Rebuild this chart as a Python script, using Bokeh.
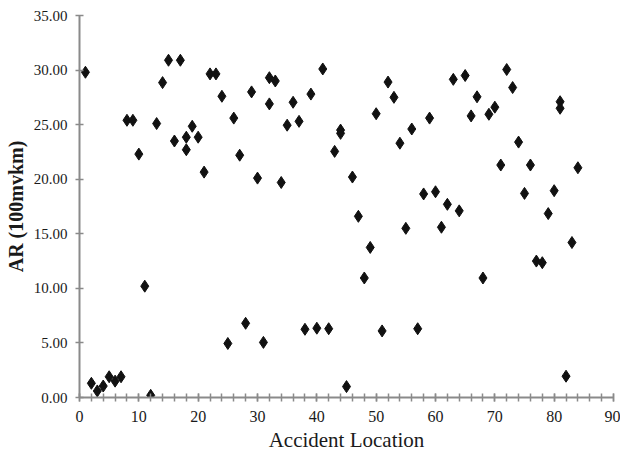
from bokeh.plotting import figure
from bokeh.models import FixedTicker, PrintfTickFormatter, Range1d, ColumnDataSource
from bokeh.embed import file_html
from bokeh.resources import INLINE

location = [1, 2, 3, 4, 5, 6, 7, 8, 9, 10, 11, 12, 13, 14, 15, 16, 17, 18, 18, 19,
            20, 21, 22, 23, 24, 25, 26, 27, 28, 29, 30, 31, 32, 32, 33, 34, 35, 36, 37, 38,
            39, 40, 41, 42, 43, 44, 44, 45, 46, 47, 48, 49, 50, 51, 52, 53, 54, 55, 56, 57,
            58, 59, 60, 61, 62, 63, 64, 65, 66, 67, 68, 69, 70, 71, 72, 73, 74, 75, 76, 77,
            78, 79, 80, 81, 81, 82, 83, 84]
ar = [29.8, 1.3, 0.6, 1.05, 1.9, 1.5, 1.9, 25.4, 25.4, 22.3, 10.2, 0.2, 25.1, 28.85, 30.9, 23.5, 30.9, 23.85, 22.7, 24.85,
      23.85, 20.65, 29.65, 29.65, 27.6, 4.95, 25.6, 22.2, 6.8, 28.0, 20.1, 5.05, 29.3, 26.9, 29.0, 19.7, 24.95, 27.05, 25.3, 6.25,
      27.8, 6.35, 30.1, 6.3, 22.55, 24.5, 24.2, 1.0, 20.2, 16.6, 10.95, 13.75, 26.0, 6.1, 28.9, 27.5, 23.3, 15.5, 24.6, 6.3,
      18.65, 25.6, 18.85, 15.6, 17.7, 29.15, 17.1, 29.5, 25.8, 27.55, 10.95, 25.95, 26.6, 21.3, 30.05, 28.4, 23.4, 18.7, 21.3, 12.5,
      12.35, 16.85, 18.95, 27.1, 26.5, 1.95, 14.2, 21.05]

x_ticks = [0, 10, 20, 30, 40, 50, 60, 70, 80, 90]
x_minor = list(range(0, 91, 2))
y_ticks = [0, 5, 10, 15, 20, 25, 30, 35]

src = ColumnDataSource(data=dict(x=location, y=ar))

p = figure(width=620, height=455, output_backend="svg", toolbar_location=None,
           x_range=Range1d(0, 90), y_range=Range1d(0, 35),
           min_border_left=79, min_border_right=7, min_border_top=15, min_border_bottom=58)

p.scatter("x", "y", source=src, marker="diamond", size=12, color="#111111")

p.xgrid.visible = False
p.ygrid.visible = False
p.outline_line_color = None
p.background_fill_color = "white"
p.border_fill_color = "white"

p.xaxis.ticker = FixedTicker(ticks=x_ticks, minor_ticks=x_minor)
p.yaxis.ticker = FixedTicker(ticks=y_ticks, minor_ticks=[])
p.xaxis.formatter = PrintfTickFormatter(format="%d")
p.yaxis.formatter = PrintfTickFormatter(format="%.2f")

for ax in (p.xaxis[0], p.yaxis[0]):
    ax.axis_line_color = "#8a8a8a"
    ax.axis_line_width = 2
    ax.major_tick_line_color = "#8a8a8a"
    ax.minor_tick_line_color = "#8a8a8a"
    ax.major_tick_line_width = 1.5
    ax.minor_tick_line_width = 1.5
    ax.major_tick_in = 4
    ax.major_tick_out = 4
    ax.minor_tick_in = 4
    ax.minor_tick_out = 4
    ax.major_label_text_font = "Liberation Serif"
    ax.major_label_text_color = "#1a1a1a"
    ax.axis_label_text_font = "Liberation Serif"
    ax.axis_label_text_color = "#1a1a1a"

p.xaxis.major_label_text_font_size = "16px"
p.yaxis.major_label_text_font_size = "15px"

p.xaxis.axis_label = "Accident Location"
p.xaxis.axis_label_text_font_style = "normal"
p.xaxis.axis_label_text_font_size = "21px"
p.xaxis.major_label_standoff = 9
p.xaxis.axis_label_standoff = 3

p.yaxis.axis_label = "AR (100mvkm)"
p.yaxis.axis_label_text_font_style = "bold"
p.yaxis.axis_label_text_font_size = "20px"
p.yaxis.major_label_standoff = 8
p.yaxis.axis_label_standoff = 4

open("out.html", "w").write(file_html(p, INLINE))
